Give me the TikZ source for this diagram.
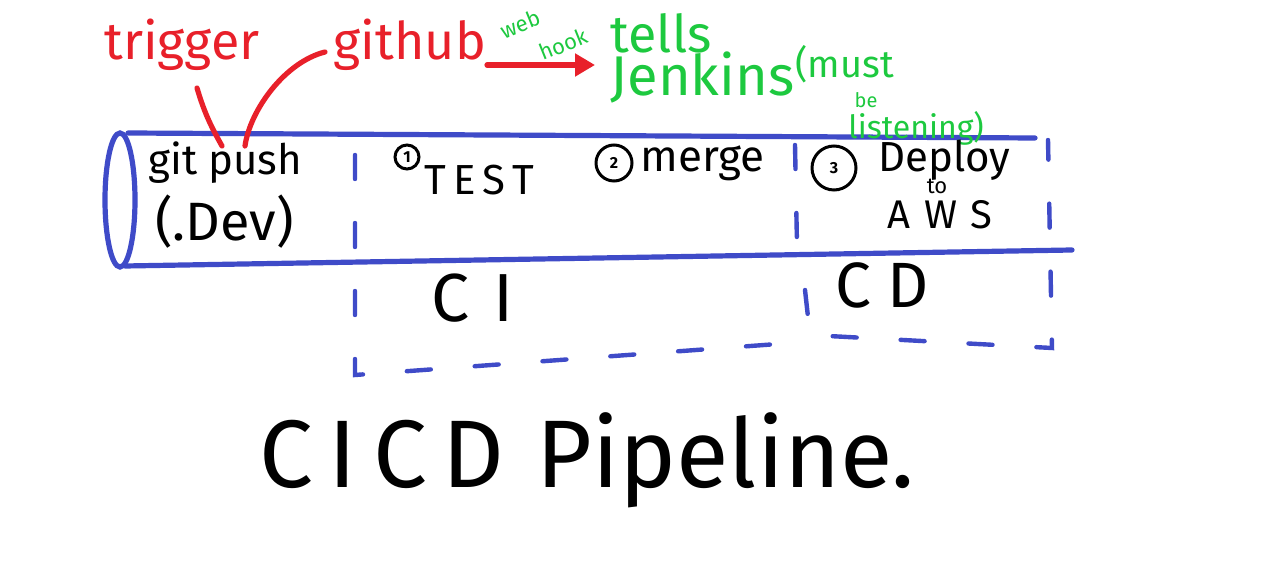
\documentclass[tikz,border=0pt]{standalone}
\usepackage{fontspec}
\setmainfont{Fira Sans}
\usetikzlibrary{arrows.meta}
\definecolor{pipeblue}{HTML}{3F4BC8}
\definecolor{inkred}{HTML}{E8202A}
\definecolor{inkgreen}{HTML}{1DC93F}
\tikzset{
  pipe/.style={draw=pipeblue, line width=2.6pt, line cap=round},
  dashbox/.style={draw=pipeblue, line width=2.2pt, line cap=round, dash pattern=on 12pt off 22pt},
  redink/.style={draw=inkred, line width=2.6pt, line cap=round},
  lbl/.style={inner sep=0pt, text=black, font=\fontsize{18}{20}\selectfont},
  redlbl/.style={inner sep=0pt, text=inkred},
  greenlbl/.style={inner sep=0pt, text=inkgreen},
  numcirc/.style={circle, draw=black, line width=1.5pt, inner sep=0pt, font=\fontsize{8}{9}\selectfont\bfseries}
}
\begin{document}
\begin{tikzpicture}[x=0.5pt, y=-0.5pt]
\useasboundingbox[fill=white] (0,0) rectangle (1284,576);

% pipe
\coordinate (tl) at (128,133);
\coordinate (tr) at (1035,138);
\coordinate (bl) at (125,266);
\coordinate (br) at (1072,250);
\draw[pipe] (tl) -- (tr);
\draw[pipe] (bl) -- (br);
\draw[pipe] (120,200) ellipse [x radius=15, y radius=67];

% CI dashed box
\coordinate (ci1) at (355,155);
\coordinate (ci2) at (355,375);
\coordinate (ci3) at (805,342);
\coordinate (ci4) at (795,145);
\draw[dashbox] (ci1) -- (ci2) -- (ci3);
\draw[dashbox] (ci4) -- (797,245);
% CD dashed box
\coordinate (cd1) at (805,290);
\coordinate (cd2) at (810,335);
\coordinate (cd3) at (1052,348);
\coordinate (cd4) at (1048,140);
\draw[dashbox] (cd1) -- (cd2) -- (cd3) -- (cd4);

% red annotations
\node[redlbl, font=\fontsize{26}{28}\selectfont] (trig) at (182,45) {trigger};
\node[redlbl, font=\fontsize{26}{28}\selectfont] (gh) at (410,45) {github};
\coordinate (pushTop1) at (222,146);
\coordinate (pushTop2) at (245,146);
\draw[redink] (197,88) .. controls (205,115) and (212,128) .. (pushTop1);
\draw[redink] (325,52) .. controls (285,62) and (250,110) .. (pushTop2);
\node[greenlbl, font=\fontsize{26}{28}\selectfont, anchor=west] (tells) at (610,33) {tells};
\node[greenlbl, font=\fontsize{28}{30}\selectfont, anchor=west] (jenk) at (610,78) {Jenkins};
\node[greenlbl, font=\fontsize{19}{20}\selectfont, anchor=west] (must) at (795,64) {(must};
\node[greenlbl, font=\fontsize{10}{11}\selectfont] (be) at (866,100) {be};
\node[greenlbl, font=\fontsize{16}{18}\selectfont, anchor=west] (list) at (848,128) {listening)};
\coordinate (arrS) at (487,65);
\coordinate (arrE) at (595,65);
\draw[redink, -{Triangle[length=10pt,width=11pt]}] (arrS) -- (arrE);
\node[greenlbl, font=\fontsize{11}{11}\selectfont, rotate=22] (web) at (520,24) {web};
\node[greenlbl, font=\fontsize{11}{11}\selectfont, rotate=22] (hook) at (563,44) {hook};

% inside pipe
\node[lbl, anchor=west, font=\fontsize{21}{22}\selectfont] (push) at (148,163) {git push};
\node[lbl, anchor=west, font=\fontsize{27}{28}\selectfont] (dev) at (155,222) {(.Dev)};
\node[numcirc, minimum size=12pt] (n1) at (407,157) {1};
\node[lbl, anchor=west, font=\fontsize{21}{22}\selectfont] (test) at (424,180) {T\,E\,S\,T};
\node[numcirc, minimum size=18pt] (n2) at (614,163) {2};
\node[lbl, anchor=west, font=\fontsize{22}{24}\selectfont] (merge) at (640,163) {merge};
\node[numcirc, minimum size=22pt] (n3) at (834,168) {3};
\node[lbl, anchor=west, font=\fontsize{21}{22}\selectfont] (deploy) at (878,160) {Deploy};
\node[lbl, font=\fontsize{11}{12}\selectfont] (to) at (937,186) {to};
\node[lbl, font=\fontsize{20}{22}\selectfont] (aws) at (940,215) {A\,\,W\,\,S};

% CI / CD
\node[lbl, font=\fontsize{34}{36}\selectfont] (ci) at (473,298) {C\hspace{12pt}I};
\node[lbl, font=\fontsize{32}{34}\selectfont] (cd) at (882,285) {C\hspace{8pt}D};

% title
\node[lbl, font=\fontsize{48}{50}\selectfont] (title) at (587,460) {C\,I\,C\,D\hspace{16pt}Pipeline.};
\end{tikzpicture}
\end{document}
